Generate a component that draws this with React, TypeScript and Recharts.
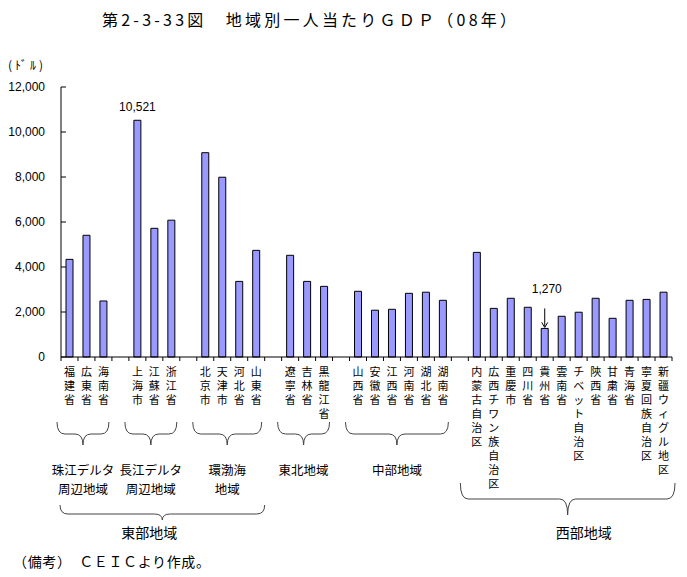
import { BarChart, Bar, XAxis, YAxis, LabelList } from "recharts";

// categories, left to right ("" = empty slot between regions)
const regions = [
  "福建省", "広東省", "海南省", "",
  "上海市", "江蘇省", "浙江省", "",
  "北京市", "天津市", "河北省", "山東省", "",
  "遼寧省", "吉林省", "黒龍江省", "",
  "山西省", "安徽省", "江西省", "河南省", "湖北省", "湖南省", "",
  "内蒙古自治区", "広西チワン族自治区", "重慶市", "四川省", "貴州省", "雲南省",
  "チベット自治区", "陝西省", "甘粛省", "青海省", "寧夏回族自治区", "新疆ウィグル地区",
];

// per-capita GDP, USD (2008)
const gdp = [
  4340, 5410, 2490, null,
  10521, 5720, 6080, null,
  9080, 7990, 3360, 4740, null,
  4520, 3360, 3140, null,
  2920, 2080, 2120, 2830, 2880, 2520, null,
  4650, 2160, 2610, 2210, 1270, 1810,
  1990, 2610, 1720, 2520, 2560, 2880,
];

const yTicks = [0, 2000, 4000, 6000, 8000, 10000, 12000];

const callouts: Record<string, string> = { "上海市": "10,521", "貴州省": "1,270" };
const arrowed = ["貴州省"];

const subBlocks = [
  { lines: ["珠江デルタ", "周辺地域"], first: "福建省", last: "海南省" },
  { lines: ["長江デルタ", "周辺地域"], first: "上海市", last: "浙江省" },
  { lines: ["環渤海", "地域"], first: "北京市", last: "山東省" },
  { lines: ["東北地域"], first: "遼寧省", last: "黒龍江省" },
  { lines: ["中部地域"], first: "山西省", last: "湖南省" },
];

const bigBlocks = [
  { name: "東部地域", first: "福建省", last: "山東省" },
  { name: "西部地域", first: "内蒙古自治区", last: "新疆ウィグル地区" },
];

const W = 687;
const H = 577;
const PLOT_LEFT = 61;
const PLOT_RIGHT = 672;
const PLOT_TOP = 87;
const PLOT_BOTTOM = 357;
const SLOT = (PLOT_RIGHT - PLOT_LEFT) / regions.length;
const JP = "'Noto Sans CJK JP', sans-serif";
const NUM = "'Liberation Sans', Arial, sans-serif";

const data = regions.map((name, i) => ({ key: `c${i}`, name, gdp: gdp[i] }));

const slotLeft = (name: string) => PLOT_LEFT + regions.indexOf(name) * SLOT;
const slotRight = (name: string) => PLOT_LEFT + (regions.indexOf(name) + 1) * SLOT;

function YTick({ x, y, payload }: any) {
  return (
    <g>
      <line x1={x} x2={x + 5} y1={y} y2={y} stroke="#000" />
      <text x={x - 16} y={y + 4} textAnchor="end" fontSize={12} fontFamily={NUM} fill="#000">
        {Number(payload.value).toLocaleString("en-US")}
      </text>
    </g>
  );
}

function XTick({ x, y, payload }: any) {
  const i = payload.index;
  const label = regions[i] || "";
  const half = SLOT / 2;
  return (
    <g>
      <line x1={x - half} x2={x - half} y1={y} y2={y + 4} stroke="#000" />
      {i === regions.length - 1 && <line x1={x + half} x2={x + half} y1={y} y2={y + 4} stroke="#000" />}
      {[...label].map((ch, k) => (
        <text key={k} x={x} y={y + 19 + k * 14} textAnchor="middle" fontSize={11} fontFamily={JP} fill="#000">
          {ch}
        </text>
      ))}
    </g>
  );
}

function Callout(props: any) {
  const { x, y, width, value } = props;
  const name = String(value);
  const text = callouts[name];
  if (!text) return null;
  const cx = x + width / 2;
  if (arrowed.includes(name)) {
    return (
      <g>
        <text x={cx + 2} y={y - 35} textAnchor="middle" fontSize={12} fontFamily={NUM} fill="#000">{text}</text>
        <line x1={cx} x2={cx} y1={y - 20} y2={y - 2} stroke="#000" />
        <path d={`M${cx - 3},${y - 6} L${cx},${y - 1} L${cx + 3},${y - 6}`} fill="none" stroke="#000" />
      </g>
    );
  }
  return (
    <text x={cx} y={y - 9} textAnchor="middle" fontSize={12} fontFamily={NUM} fill="#000">{text}</text>
  );
}

function brace(x1: number, x2: number, yTop: number, yMid: number, yTip: number) {
  const xc = (x1 + x2) / 2;
  const r = 8;
  return `M${x1},${yTop} Q${x1},${yMid} ${x1 + r},${yMid} L${xc - r},${yMid} Q${xc},${yMid} ${xc},${yTip} Q${xc},${yMid} ${xc + r},${yMid} L${x2 - r},${yMid} Q${x2},${yMid} ${x2},${yTop}`;
}

export default function App() {
  return (
    <div style={{ position: "absolute", left: 0, top: 0, width: W, height: H, background: "#fff" }}>
      <BarChart
        width={W}
        height={H}
        data={data}
        margin={{ top: PLOT_TOP, right: W - PLOT_RIGHT, bottom: H - PLOT_BOTTOM - 30, left: 0 }}
      >
        <XAxis
          dataKey="key"
          height={30}
          interval={0}
          tickSize={0}
          tickMargin={0}
          axisLine={{ stroke: "#000" }}
          tickLine={false}
          tick={<XTick />}
        />
        <YAxis
          width={PLOT_LEFT}
          domain={[0, 12000]}
          ticks={yTicks}
          interval={0}
          tickSize={0}
          tickMargin={0}
          axisLine={{ stroke: "#000" }}
          tickLine={false}
          tick={<YTick />}
        />
        <Bar dataKey="gdp" barSize={7} fill="#9999FF" stroke="#000" strokeWidth={1} isAnimationActive={false}>
          <LabelList dataKey="name" content={<Callout />} />
        </Bar>
      </BarChart>

      <svg width={W} height={H} style={{ position: "absolute", left: 0, top: 0, pointerEvents: "none" }}>
        <text x={102} y={26} fontSize={16} fontFamily={JP} fill="#000" textLength={414} lengthAdjust="spacing">
          第2-3-33図　地域別一人当たりＧＤＰ（08年）
        </text>
        <text x={8} y={70} fontSize={12} fontFamily={JP} fill="#000" textLength={35} lengthAdjust="spacing">
          (ﾄﾞﾙ)
        </text>

        {subBlocks.map((b) => {
          const x1 = slotLeft(b.first) - 4;
          const x2 = slotRight(b.last) - 3;
          const xc = (x1 + x2) / 2;
          return (
            <g key={b.first}>
              <path d={brace(x1, x2, 422, 434, 445)} fill="none" stroke="#444" />
              {b.lines.map((ln, k) => (
                <text key={k} x={xc} y={475 + k * 19} textAnchor="middle" fontSize={12.5} fontFamily={JP} fill="#000">
                  {ln}
                </text>
              ))}
            </g>
          );
        })}

        {bigBlocks.map((b, k) => {
          const x1 = slotLeft(b.first) - (k === 0 ? 1 : 8);
          const x2 = slotRight(b.last) + (k === 0 ? 0 : 3);
          const xc = (x1 + x2) / 2;
          const geo = k === 0 ? [505, 514, 520] : [483, 499, 515];
          return (
            <g key={b.name}>
              <path d={brace(x1, x2, geo[0], geo[1], geo[2])} fill="none" stroke="#444" />
              <text x={xc + (k === 0 ? -13 : 16)} y={538} textAnchor="middle" fontSize={14} fontFamily={JP} fill="#000">
                {b.name}
              </text>
            </g>
          );
        })}

        <text x={13} y={567} fontSize={14} fontFamily={JP} fill="#000" textLength={197} lengthAdjust="spacing">
          （備考）　ＣＥＩＣより作成。
        </text>
      </svg>
    </div>
  );
}
